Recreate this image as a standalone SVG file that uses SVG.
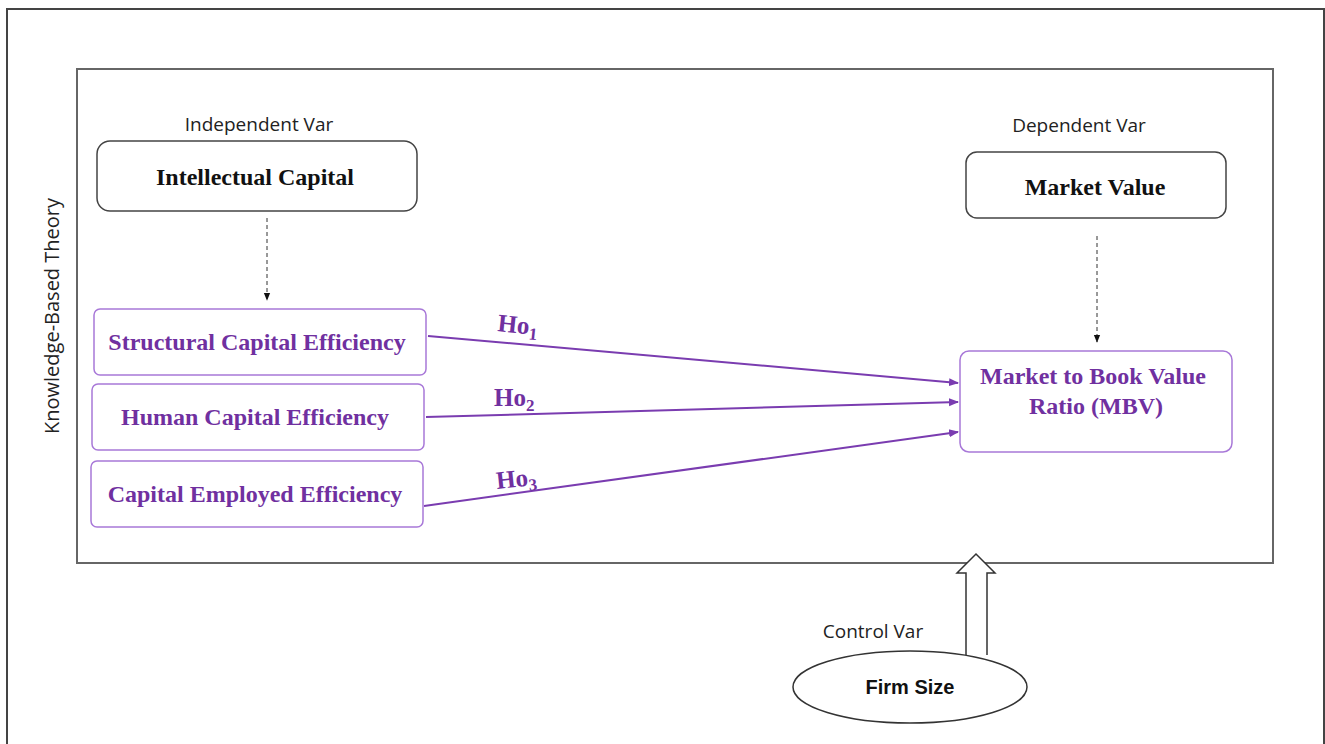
<svg xmlns="http://www.w3.org/2000/svg" width="1325" height="744" viewBox="0 0 1325 744">
<style>
.lbl{font-family:"Open Sans","Liberation Sans",sans-serif;font-size:19px;fill:#222}
.bk{font-family:"Liberation Serif",serif;font-weight:bold;font-size:24px;fill:#111}
.pt{font-family:"Liberation Serif",serif;font-weight:bold;font-size:24px;fill:#7030a0}
.ho{font-family:"Liberation Serif",serif;font-weight:bold;font-size:25px;fill:#7030a0}
.sub{font-size:17px}
.bbox{fill:#fff;stroke:#444;stroke-width:1.5}
.pbox{fill:#fff;stroke:#a878d8;stroke-width:1.5}
.pl{stroke:#7a3cb0;stroke-width:2;fill:none}
.dl{stroke:#333;stroke-width:1;stroke-dasharray:4,3;fill:none}
</style>
<defs>
<marker id="pa" viewBox="0 0 10 10" refX="9" refY="5" markerWidth="5" markerHeight="5" orient="auto" markerUnits="strokeWidth"><path d="M0,1 L10,5 L0,9 z" fill="#7a3cb0"/></marker>
<marker id="da" viewBox="0 0 10 10" refX="9" refY="5" markerWidth="8" markerHeight="8" orient="auto" markerUnits="strokeWidth"><path d="M0,1 L10,5 L0,9 z" fill="#111"/></marker>
</defs>
<rect width="1325" height="744" fill="#fff"/>
<rect id="frame" x="7" y="9" width="1317" height="760" fill="none" stroke="#444" stroke-width="2"/>
<rect id="theory" x="77" y="69" width="1196" height="494" fill="none" stroke="#666" stroke-width="2"/>
<text class="lbl" transform="translate(59,316) rotate(-90)" text-anchor="middle" style="font-size:20px">Knowledge-Based Theory</text>
<text class="lbl" x="259" y="131" text-anchor="middle">Independent Var</text>
<text class="lbl" x="1079" y="132" text-anchor="middle">Dependent Var</text>
<text class="lbl" x="873" y="638" text-anchor="middle">Control Var</text>

<g id="connectors">
<line class="dl" x1="267" y1="218" x2="267" y2="300" marker-end="url(#da)"/>
<line class="dl" x1="1097" y1="236" x2="1097" y2="342" marker-end="url(#da)"/>
<line class="pl" x1="428" y1="336" x2="958" y2="383" marker-end="url(#pa)"/>
<line class="pl" x1="426" y1="417" x2="958" y2="402" marker-end="url(#pa)"/>
<line class="pl" x1="424" y1="506" x2="958" y2="432" marker-end="url(#pa)"/>
<path id="blockarrow" d="M966,655 L966,573 L957,573 L976,554 L995,573 L987,573 L987,655" fill="#fff" stroke="#333" stroke-width="1.5"/>
<text class="ho" transform="translate(497,331) rotate(6)">Ho<tspan class="sub" dy="5">1</tspan></text>
<text class="ho" x="494" y="406">Ho<tspan class="sub" dy="5">2</tspan></text>
<text class="ho" transform="translate(497,489) rotate(-6)">Ho<tspan class="sub" dy="5">3</tspan></text>
</g>

<g id="ic"><rect class="bbox" x="97" y="141" width="320" height="70" rx="13"/><text class="bk" x="255" y="185" text-anchor="middle">Intellectual Capital</text></g>
<g id="mv"><rect class="bbox" x="966" y="152" width="260" height="66" rx="11"/><text class="bk" x="1095" y="195" text-anchor="middle">Market  Value</text></g>
<g id="sce"><rect class="pbox" x="94" y="309" width="332" height="66" rx="6"/><text class="pt" x="257" y="350" text-anchor="middle">Structural Capital Efficiency</text></g>
<g id="hce"><rect class="pbox" x="92" y="384" width="332" height="66" rx="6"/><text class="pt" x="255" y="425" text-anchor="middle">Human Capital Efficiency</text></g>
<g id="cee"><rect class="pbox" x="91" y="461" width="332" height="66" rx="6"/><text class="pt" x="255" y="502" text-anchor="middle">Capital Employed Efficiency</text></g>
<g id="mbv"><rect class="pbox" x="960" y="351" width="272" height="101" rx="9"/><text class="pt" x="1093" y="384" text-anchor="middle">Market to Book Value</text><text class="pt" x="1096" y="414" text-anchor="middle">Ratio (MBV)</text></g>
<g id="fs"><ellipse cx="910" cy="687" rx="117" ry="36" fill="#fff" stroke="#333" stroke-width="1.5"/><text x="910" y="694" text-anchor="middle" style="font-family:'Liberation Sans',sans-serif;font-weight:bold;font-size:20px;fill:#111">Firm Size</text></g>
</svg>
